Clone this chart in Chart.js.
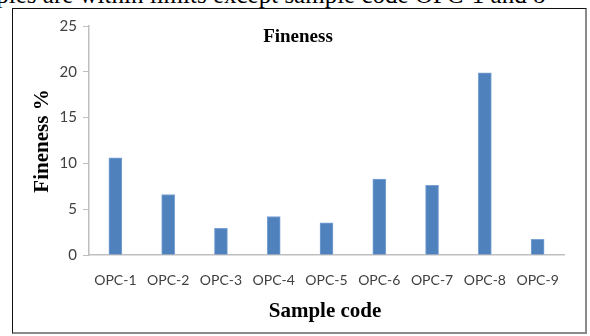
<!DOCTYPE html>
<html>
<head>
<meta charset="utf-8">
<script src="https://cdn.jsdelivr.net/npm/chart.js@4/dist/chart.umd.min.js"></script>
<style>
  html, body { margin: 0; padding: 0; background: #fff; }
  body { width: 590px; height: 336px; position: relative; overflow: hidden; }
  #para {
    position: absolute; left: -44px; top: -18px; white-space: nowrap;
    font-family: "Liberation Serif", "Times New Roman", serif; font-size: 25px;
    line-height: 25px; color: #000;
  }
  #frame {
    position: absolute; left: 12px; top: 8px; width: 575px; height: 326px;
    border-left: 1.5px solid #111; border-top: 1.5px solid #111;
    border-right: 2px solid #8a8a8a; border-bottom: 2px solid #8a8a8a;
    box-sizing: border-box;
  }
  #wrap { position: absolute; left: 0; top: 0; width: 590px; height: 336px; }
</style>
</head>
<body>
<div id="para">samples are within limits except sample code OPC-1 and 8</div>
<div id="frame"></div>
<div id="wrap"><canvas id="c" width="590" height="336"></canvas></div>
<script>
// Sample codes and their fineness (%)
const categories = ['OPC-1', 'OPC-2', 'OPC-3', 'OPC-4', 'OPC-5', 'OPC-6', 'OPC-7', 'OPC-8', 'OPC-9'];
const fineness = [10.6, 6.6, 2.9, 4.2, 3.5, 8.3, 7.6, 19.9, 1.7];
const yTicks = [0, 5, 10, 15, 20, 25];

const chartTitle = 'Fineness';
const yTitle = 'Fineness %';
const xTitle = 'Sample code';

// Draws the chart title and both axis titles in bold serif
const titlesPlugin = {
  id: 'titles',
  afterDraw(chart) {
    const ctx = chart.ctx;
    ctx.save();
    ctx.fillStyle = '#000';
    ctx.textAlign = 'center';
    ctx.textBaseline = 'middle';
    ctx.font = 'bold 19px "Liberation Serif", "Times New Roman", serif';
    ctx.fillText(chartTitle, 298, 37);
    ctx.font = 'bold 21px "Liberation Serif", "Times New Roman", serif';
    ctx.fillText(xTitle, 325, 312);
    ctx.translate(43, 141);
    ctx.rotate(-Math.PI / 2);
    ctx.fillText(yTitle, 0, 0);
    ctx.restore();
  }
};

new Chart(document.getElementById('c'), {
  type: 'bar',
  data: {
    labels: categories,
    datasets: [{
      data: fineness,
      backgroundColor: '#4f81bd',
      borderColor: '#7aa3d4',
      borderWidth: 1,
      barThickness: 13
    }]
  },
  options: {
    responsive: false,
    animation: false,
    events: [],
    layout: { padding: { top: 26, right: 26, left: 0, bottom: 0 } },
    plugins: { legend: { display: false }, tooltip: { enabled: false }, title: { display: false } },
    scales: {
      x: {
        afterFit(s) { s.height = 81; },
        grid: { display: false, drawTicks: false },
        border: { display: true, color: '#bfbfbf', width: 1.5 },
        ticks: {
          padding: 17,
          color: '#404040',
          font: { family: 'Lato, "Open Sans", sans-serif', size: 14 },
          maxRotation: 0
        }
      },
      y: {
        min: 0,
        max: 25,
        afterFit(s) { s.width = 89; },
        afterBuildTicks(s) { s.ticks = yTicks.map(v => ({ value: v })); },
        grid: { drawOnChartArea: false, drawTicks: true, tickLength: 6, color: '#bfbfbf' },
        border: { display: true, color: '#bfbfbf', width: 1.5 },
        ticks: {
          padding: 6,
          color: '#404040',
          font: { family: 'Lato, "Open Sans", sans-serif', size: 15 }
        }
      }
    }
  },
  plugins: [titlesPlugin]
});
</script>
</body>
</html>
